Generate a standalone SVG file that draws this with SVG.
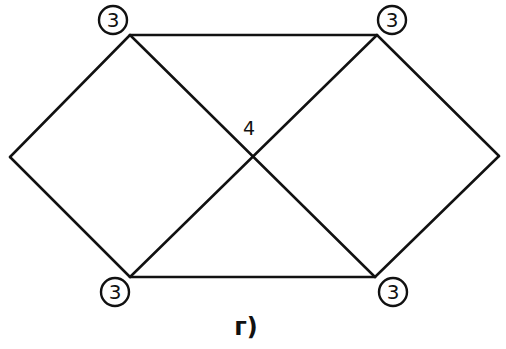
<svg xmlns="http://www.w3.org/2000/svg" width="506" height="349" viewBox="0 0 506 349">
<style>
.e{stroke:#111;stroke-width:2.5;fill:none;stroke-linecap:round}
.c{fill:#fff;stroke:#111;stroke-width:2.4}
.t{font-family:"DejaVu Sans","Liberation Sans",sans-serif;font-size:20px;fill:#111;text-anchor:middle}
</style>
<rect width="506" height="349" fill="#fff"/>
<g id="connectors">
<line class="e" x1="130" y1="35" x2="377" y2="35"/>
<line class="e" x1="130" y1="277" x2="375" y2="277"/>
<line class="e" x1="10" y1="157" x2="130" y2="35"/>
<line class="e" x1="10" y1="157" x2="130" y2="277"/>
<line class="e" x1="499" y1="156" x2="377" y2="35"/>
<line class="e" x1="499" y1="156" x2="375" y2="277"/>
<line class="e" x1="130" y1="35" x2="375" y2="277"/>
<line class="e" x1="377" y1="35" x2="130" y2="277"/>
</g>
<g id="n1"><circle class="c" cx="113" cy="20" r="14"/><text class="t" x="113" y="27">3</text></g>
<g id="n2"><circle class="c" cx="392" cy="20" r="14"/><text class="t" x="392" y="27">3</text></g>
<g id="n3"><circle class="c" cx="115" cy="292" r="14"/><text class="t" x="115" y="299">3</text></g>
<g id="n4"><circle class="c" cx="393" cy="292" r="14"/><text class="t" x="393" y="299">3</text></g>
<g id="center"><text class="t" x="249" y="135" style="font-size:19px">4</text></g>
<text class="t" x="246" y="335" style="font-size:24px;font-weight:bold">г)</text>
</svg>
